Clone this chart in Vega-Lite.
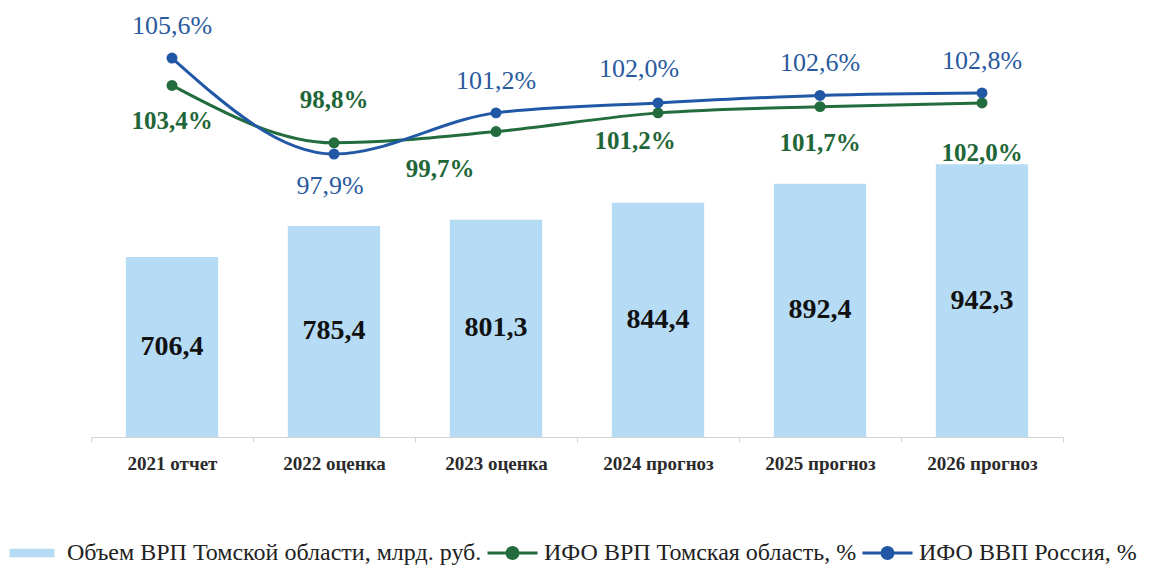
{
  "$schema": "https://vega.github.io/schema/vega-lite/v6.json",
  "autosize": {"type": "none"},
  "padding": {"left": 91, "top": 20, "right": 87, "bottom": 131},
  "width": 972,
  "height": 417,
  "background": "white",
  "config": {
    "view": {"stroke": null},
    "font": "Liberation Serif",
    "legend": {
      "title": null,
      "orient": "none",
      "legendX": -67.5,
      "legendY": 521,
      "direction": "horizontal",
      "columns": 3,
      "columnPadding": 0,
      "labelOffset": 19.5,
      "labelFont": "Liberation Serif",
      "labelFontSize": 24,
      "labelColor": "#222222",
      "labelLimit": 600,
      "symbolSize": 2500,
      "symbolStrokeWidth": 3,
      "symbolOpacity": 1
    }
  },
  "datasets": {
    "bars": [
      {"cat": "2021 отчет", "v": 706.4, "lab": "706,4"},
      {"cat": "2022 оценка", "v": 785.4, "lab": "785,4"},
      {"cat": "2023 оценка", "v": 801.3, "lab": "801,3"},
      {"cat": "2024 прогноз", "v": 844.4, "lab": "844,4"},
      {"cat": "2025 прогноз", "v": 892.4, "lab": "892,4"},
      {"cat": "2026 прогноз", "v": 942.3, "lab": "942,3"}
    ],
    "lines": [
      {"cat": "2021 отчет", "series": "ИФО ВРП Томская область, %", "v": 103.4, "lab": "103,4%"},
      {"cat": "2022 оценка", "series": "ИФО ВРП Томская область, %", "v": 98.8, "lab": "98,8%"},
      {"cat": "2023 оценка", "series": "ИФО ВРП Томская область, %", "v": 99.7, "lab": "99,7%"},
      {"cat": "2024 прогноз", "series": "ИФО ВРП Томская область, %", "v": 101.2, "lab": "101,2%"},
      {"cat": "2025 прогноз", "series": "ИФО ВРП Томская область, %", "v": 101.7, "lab": "101,7%"},
      {"cat": "2026 прогноз", "series": "ИФО ВРП Томская область, %", "v": 102.0, "lab": "102,0%"},
      {"cat": "2021 отчет", "series": "ИФО ВВП Россия, %", "v": 105.6, "lab": "105,6%"},
      {"cat": "2022 оценка", "series": "ИФО ВВП Россия, %", "v": 97.9, "lab": "97,9%"},
      {"cat": "2023 оценка", "series": "ИФО ВВП Россия, %", "v": 101.2, "lab": "101,2%"},
      {"cat": "2024 прогноз", "series": "ИФО ВВП Россия, %", "v": 102.0, "lab": "102,0%"},
      {"cat": "2025 прогноз", "series": "ИФО ВВП Россия, %", "v": 102.6, "lab": "102,6%"},
      {"cat": "2026 прогноз", "series": "ИФО ВВП Россия, %", "v": 102.8, "lab": "102,8%"}
    ]
  },
  "encoding": {
    "x": {
      "field": "cat",
      "type": "nominal",
      "sort": null,
      "scale": {"paddingInner": 0, "paddingOuter": 0},
      "axis": {
        "title": null,
        "labelAngle": 0,
        "labelFont": "Liberation Serif",
        "labelFontSize": 19,
        "labelFontWeight": "bold",
        "labelColor": "#2a2a2a",
        "labelPadding": 12,
        "domainColor": "#d4d4d4",
        "tickColor": "#d4d4d4",
        "tickSize": 5,
        "tickBand": "extent"
      }
    }
  },
  "resolve": {"scale": {"y": "independent"}},
  "layer": [
    {
      "data": {"name": "bars"},
      "layer": [
        {
          "mark": {"type": "bar", "width": {"band": 0.57}},
          "encoding": {
            "y": {"field": "v", "type": "quantitative", "scale": {"domain": [250, 1308], "zero": false, "nice": false}, "axis": null},
            "y2": {"datum": 250},
            "color": {
              "datum": "Объем ВРП Томской области, млрд. руб.",
              "type": "nominal",
              "scale": {
                "domain": ["Объем ВРП Томской области, млрд. руб.", "ИФО ВРП Томская область, %", "ИФО ВВП Россия, %"],
                "range": ["#b6dbf5", "#236c3d", "#2158a6"]
              },
              "legend": {
                "title": null,
                "orient": "none",
                "legendX": -67.5,
                "legendY": 521,
                "direction": "horizontal",
                "columns": 3,
                "encode": {
                  "symbols": {
                    "update": {
                      "shape": {"signal": "datum.value === 'Объем ВРП Томской области, млрд. руб.' ? 'M-1.04,-0.17H0.76V0.17H-1.04Z' : 'M-1,0H1M0.22,0A0.22,0.22 0 1,1 -0.22,0A0.22,0.22 0 1,1 0.22,0'"},
                      "fill": {"scale": "color", "field": "value"},
                      "stroke": {"scale": "color", "field": "value"},
                      "strokeWidth": {"signal": "datum.value === 'Объем ВРП Томской области, млрд. руб.' ? 0 : 3"},
                      "opacity": {"value": 1},
                      "fillOpacity": {"value": 1}
                    }
                  }
                }
              }
            }
          }
        },
        {
          "transform": [{"calculate": "(datum.v + 250) / 2", "as": "mid"}],
          "mark": {"type": "text", "font": "Liberation Serif", "fontSize": 28, "fontWeight": "bold", "color": "#111111", "baseline": "middle"},
          "encoding": {
            "y": {"field": "mid", "type": "quantitative", "scale": {"domain": [250, 1308], "zero": false, "nice": false}, "axis": null},
            "text": {"field": "lab"}
          }
        }
      ]
    },
    {
      "data": {"name": "lines"},
      "encoding": {
        "y": {"field": "v", "type": "quantitative", "scale": {"domain": [75.2, 108.65], "zero": false, "nice": false}, "axis": null}
      },
      "layer": [
        {
          "mark": {"type": "line", "interpolate": "monotone", "strokeWidth": 3, "point": {"filled": true, "size": 120}},
          "encoding": {
            "color": {
              "field": "series",
              "type": "nominal",
              "legend": {
                "title": null,
                "orient": "none",
                "legendX": -67.5,
                "legendY": 521,
                "direction": "horizontal",
                "columns": 3,
                "encode": {
                  "symbols": {
                    "update": {
                      "shape": {"signal": "datum.value === 'Объем ВРП Томской области, млрд. руб.' ? 'M-1.04,-0.17H0.76V0.17H-1.04Z' : 'M-1,0H1M0.22,0A0.22,0.22 0 1,1 -0.22,0A0.22,0.22 0 1,1 0.22,0'"},
                      "fill": {"scale": "color", "field": "value"},
                      "stroke": {"scale": "color", "field": "value"},
                      "strokeWidth": {"signal": "datum.value === 'Объем ВРП Томской области, млрд. руб.' ? 0 : 3"},
                      "opacity": {"value": 1},
                      "fillOpacity": {"value": 1}
                    }
                  }
                }
              }
            },
            "order": {"field": "series", "sort": "descending"}
          }
        },
        {
          "transform": [{"filter": "datum.series === 'ИФО ВВП Россия, %' && (datum.cat === '2021 отчет' || datum.cat === '2023 оценка' || datum.cat === '2025 прогноз' || datum.cat === '2026 прогноз')"}],
          "mark": {"type": "text", "font": "Liberation Serif", "fontSize": 26, "color": "#2a5a9e", "baseline": "middle", "dy": -32},
          "encoding": {"text": {"field": "lab"}}
        },
        {
          "transform": [{"filter": "datum.series === 'ИФО ВВП Россия, %' && datum.cat === '2024 прогноз'"}],
          "mark": {"type": "text", "font": "Liberation Serif", "fontSize": 26, "color": "#2a5a9e", "baseline": "middle", "dy": -34, "dx": -19},
          "encoding": {"text": {"field": "lab"}}
        },
        {
          "transform": [{"filter": "datum.series === 'ИФО ВВП Россия, %' && datum.cat === '2022 оценка'"}],
          "mark": {"type": "text", "font": "Liberation Serif", "fontSize": 26, "color": "#2a5a9e", "baseline": "middle", "dy": 32, "dx": -4},
          "encoding": {"text": {"field": "lab"}}
        },
        {
          "transform": [{"filter": "datum.series === 'ИФО ВРП Томская область, %' && datum.cat === '2022 оценка'"}],
          "mark": {"type": "text", "font": "Liberation Serif", "fontSize": 25, "fontWeight": "bold", "color": "#1f6638", "baseline": "middle", "dy": -43},
          "encoding": {"text": {"field": "lab"}}
        },
        {
          "transform": [{"filter": "datum.series === 'ИФО ВРП Томская область, %' && (datum.cat === '2021 отчет' || datum.cat === '2025 прогноз')"}],
          "mark": {"type": "text", "font": "Liberation Serif", "fontSize": 25, "fontWeight": "bold", "color": "#1f6638", "baseline": "middle", "dy": 36},
          "encoding": {"text": {"field": "lab"}}
        },
        {
          "transform": [{"filter": "datum.series === 'ИФО ВРП Томская область, %' && datum.cat === '2023 оценка'"}],
          "mark": {"type": "text", "font": "Liberation Serif", "fontSize": 25, "fontWeight": "bold", "color": "#1f6638", "baseline": "middle", "dy": 37, "dx": -56},
          "encoding": {"text": {"field": "lab"}}
        },
        {
          "transform": [{"filter": "datum.series === 'ИФО ВРП Томская область, %' && datum.cat === '2024 прогноз'"}],
          "mark": {"type": "text", "font": "Liberation Serif", "fontSize": 25, "fontWeight": "bold", "color": "#1f6638", "baseline": "middle", "dy": 28, "dx": -23},
          "encoding": {"text": {"field": "lab"}}
        },
        {
          "transform": [{"filter": "datum.series === 'ИФО ВРП Томская область, %' && datum.cat === '2026 прогноз'"}],
          "mark": {"type": "text", "font": "Liberation Serif", "fontSize": 25, "fontWeight": "bold", "color": "#1f6638", "baseline": "middle", "dy": 50},
          "encoding": {"text": {"field": "lab"}}
        }
      ]
    }
  ]
}
